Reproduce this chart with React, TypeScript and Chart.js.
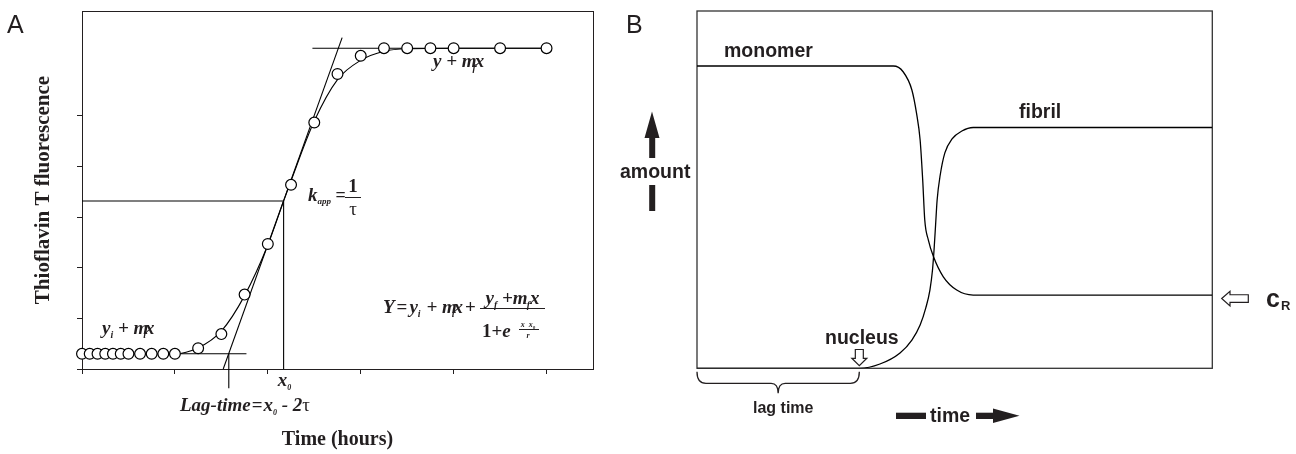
import React, { useEffect, useRef } from 'react';
import { Chart, registerables } from 'chart.js';

Chart.register(...registerables);

const SERIF = "'Liberation Serif', 'Times New Roman', serif";
const SANS = "'Liberation Sans', Arial, sans-serif";
const INK = '#231f20';

// ---------------- Panel A data ----------------
const timeHours = [0, 0.083, 0.167, 0.25, 0.333, 0.417, 0.5, 0.625, 0.75, 0.875, 1.0, 1.25, 1.5, 1.75, 2.0, 2.25, 2.5, 2.75, 3.0, 3.25, 3.5, 3.75, 4.0, 4.5, 5.0];
const thtFluorescence = [0.3, 0.3, 0.3, 0.3, 0.3, 0.3, 0.3, 0.3, 0.3, 0.3, 0.3, 0.41, 0.69, 1.47, 2.47, 3.64, 4.87, 5.83, 6.19, 6.34, 6.34, 6.34, 6.34, 6.34, 6.34];
const fitTime = [0, 1.0, 1.25, 1.5, 1.75, 2.0, 2.17, 2.25, 2.5, 2.75, 3.0, 3.25, 3.5, 4.0, 5.0];
const fitValue = [0.3, 0.3, 0.42, 0.75, 1.45, 2.45, 3.32, 3.72, 4.9, 5.72, 6.1, 6.28, 6.33, 6.34, 6.34];
const x0Time = 2.17;
const halfSignal = 3.32;
const tangentTime = [1.52, 2.8];
const tangentValue = [0, 6.55];
const baselineTime = [0, 1.77];
const baselineValue = [0.3, 0.3];
const plateauTime = [2.48, 5.0];
const plateauValue = [6.34, 6.34];
const lagTime = 1.58;
const lagMarkValue = [0.3, -0.38];
const xTicksA = [0, 1, 2, 3, 4, 5];
const yTicksA = [0, 1, 2, 3, 4, 5];

// ---------------- Panel B data ----------------
const monomerTime = [0, 38.1, 40.0, 41.7, 42.6, 43.3, 43.8, 44.2, 44.9, 45.9, 47.8, 50.4, 53.6, 100];
const monomerAmount = [84.6, 84.6, 83.0, 77.9, 71.4, 63.9, 52.7, 41.5, 35.9, 31.2, 25.6, 21.9, 20.5, 20.5];
const fibrilTime = [0, 31.5, 35.5, 39.4, 41.7, 43.3, 44.4, 45.2, 45.7, 46.0, 46.3, 46.6, 47.2, 48.1, 49.5, 51.4, 53.6, 100];
const fibrilAmount = [0, 0, 1.2, 4.3, 7.9, 12.1, 16.9, 21.9, 27.5, 33.1, 40.1, 47.1, 54.1, 60.3, 64.2, 66.4, 67.4, 67.4];
const lagEndB = 31.5;
const cRLevel = 20.5;

const pts = (xs: number[], ys: number[]) => xs.map((x, i) => ({ x, y: ys[i] }));

type Seg = { t: string; f: string; dx?: number; dy?: number };
function rich(ctx: CanvasRenderingContext2D, x: number, y: number, segs: Seg[], align: 'left' | 'center' = 'left') {
  ctx.textAlign = 'left';
  let w = 0;
  for (const s of segs) {
    ctx.font = s.f;
    w += ctx.measureText(s.t).width + (s.dx || 0);
  }
  let cx = align === 'center' ? x - w / 2 : x;
  for (const s of segs) {
    ctx.font = s.f;
    cx += s.dx || 0;
    ctx.fillText(s.t, cx, y + (s.dy || 0));
    cx += ctx.measureText(s.t).width;
  }
}

const BI = (n: number) => `italic bold ${n}px ${SERIF}`;
const BS = (n: number) => `bold ${n}px ${SERIF}`;
const RS = (n: number) => `${n}px ${SERIF}`;
const SB = (n: number) => `bold ${n}px ${SANS}`;

const annotA = {
  id: 'annotA',
  beforeDatasetsDraw(chart: any) {
    const { ctx, chartArea: a } = chart;
    ctx.save();
    ctx.strokeStyle = INK;
    ctx.lineWidth = 1;
    ctx.strokeRect(Math.round(a.left) + 0.5, Math.round(a.top) + 0.5, Math.round(a.right - a.left), Math.round(a.bottom - a.top));
    ctx.restore();
  },
  afterDraw(chart: any) {
    const ctx: CanvasRenderingContext2D = chart.ctx;
    const xs = chart.scales.x;
    ctx.save();
    ctx.fillStyle = INK;
    ctx.strokeStyle = INK;
    ctx.textBaseline = 'alphabetic';
    ctx.font = `25px ${SANS}`;
    ctx.textAlign = 'left';
    ctx.fillText('A', 7, 33);

    // y + m_f x
    rich(ctx, 433, 67, [
      { t: 'y + m', f: BI(19) },
      { t: 'f', f: BI(10), dx: -4, dy: 4 },
      { t: 'x', f: BI(19), dx: -1 },
    ]);
    // y_i + m_i x
    rich(ctx, 102, 334, [
      { t: 'y', f: BI(19) },
      { t: 'i', f: BI(10), dy: 4 },
      { t: ' + m', f: BI(19) },
      { t: 'i', f: BI(10), dx: -5, dy: 4 },
      { t: 'x', f: BI(19), dx: -1 },
    ]);
    // k_app = 1/tau
    rich(ctx, 308, 201, [
      { t: 'k', f: BI(19) },
      { t: 'app', f: BI(9), dy: 3 },
      { t: ' = ', f: BS(18) },
    ]);
    ctx.textAlign = 'center';
    ctx.font = BS(19);
    ctx.fillText('1', 353, 192);
    ctx.font = RS(19);
    ctx.fillText('τ', 353, 215);
    ctx.lineWidth = 1;
    ctx.beginPath();
    ctx.moveTo(345, 197.5);
    ctx.lineTo(361, 197.5);
    ctx.stroke();

    // x0 label
    rich(ctx, xs.getPixelForValue(x0Time) + 1, 386, [
      { t: 'x', f: BI(19) },
      { t: '0', f: BI(8), dy: 4 },
    ], 'center');
    // Lag-time
    rich(ctx, 245, 411, [
      { t: 'Lag-time', f: BI(19) },
      { t: '=', f: BS(19), dx: 1 },
      { t: 'x', f: BI(19), dx: 1 },
      { t: '0', f: BI(8), dy: 4 },
      { t: ' - 2', f: BI(19) },
      { t: 'τ', f: RS(19) },
    ], 'center');

    // Equation
    rich(ctx, 383, 313, [
      { t: 'Y', f: BI(19) },
      { t: '=', f: BS(19), dx: 2 },
      { t: 'y', f: BI(19), dx: 2 },
      { t: 'i', f: BI(10), dy: 4 },
      { t: ' + m', f: BI(19), dx: 1 },
      { t: 'i', f: BI(10), dx: -5, dy: 4 },
      { t: 'x', f: BI(19), dx: -1 },
      { t: '+', f: BS(19), dx: 2 },
    ]);
    rich(ctx, 512.5, 304, [
      { t: 'y', f: BI(19) },
      { t: 'f', f: BI(10), dy: 4 },
      { t: ' +m', f: BI(19) },
      { t: 'f', f: BI(10), dx: -1, dy: 4 },
      { t: 'x', f: BI(19) },
    ], 'center');
    ctx.beginPath();
    ctx.moveTo(480, 308.5);
    ctx.lineTo(545, 308.5);
    ctx.stroke();
    rich(ctx, 482, 337, [
      { t: '1+', f: BS(19) },
      { t: 'e', f: BI(19) },
    ]);
    rich(ctx, 528, 327, [
      { t: 'x  x', f: BI(8) },
      { t: '0', f: BI(5), dy: 2 },
    ], 'center');
    ctx.beginPath();
    ctx.moveTo(519, 329.5);
    ctx.lineTo(539, 329.5);
    ctx.stroke();
    ctx.font = BI(8);
    ctx.textAlign = 'center';
    ctx.fillText('r', 528, 338);
    ctx.restore();
  },
};

const annotB = {
  id: 'annotB',
  beforeDatasetsDraw(chart: any) {
    const { ctx, chartArea: a } = chart;
    ctx.save();
    ctx.strokeStyle = '#333';
    ctx.lineWidth = 1.3;
    ctx.strokeRect(a.left, a.top, a.right - a.left, a.bottom - a.top);
    ctx.restore();
  },
  afterDraw(chart: any) {
    const ctx: CanvasRenderingContext2D = chart.ctx;
    const xs = chart.scales.x;
    const ys = chart.scales.y;
    ctx.save();
    ctx.translate(-620, 0);
    const px = (v: number) => xs.getPixelForValue(v) + 620;
    ctx.fillStyle = INK;
    ctx.strokeStyle = INK;
    ctx.textBaseline = 'alphabetic';
    ctx.textAlign = 'left';
    ctx.font = `25px ${SANS}`;
    ctx.fillText('B', 626, 33);

    ctx.font = SB(19.5);
    ctx.fillText('monomer', 724, 57);
    ctx.fillText('fibril', 1019, 118);
    ctx.fillText('amount', 620, 178);
    ctx.fillText('nucleus', 825, 344);
    ctx.fillText('time', 930, 421.5);
    ctx.font = SB(16);
    ctx.fillText('lag time', 753, 413);
    ctx.font = SB(25);
    ctx.fillText('c', 1266, 307);
    ctx.font = SB(13);
    ctx.fillText('R', 1281, 310);

    // up arrow (amount)
    ctx.beginPath();
    ctx.moveTo(652, 111.5);
    ctx.lineTo(659.5, 138);
    ctx.lineTo(655.2, 138);
    ctx.lineTo(655.2, 158);
    ctx.lineTo(649.2, 158);
    ctx.lineTo(649.2, 138);
    ctx.lineTo(644.5, 138);
    ctx.closePath();
    ctx.fill();
    ctx.fillRect(649.2, 185, 6, 26);

    // nucleus hollow arrow
    const nx = px(lagEndB);
    ctx.lineWidth = 1.2;
    ctx.fillStyle = '#fff';
    ctx.beginPath();
    ctx.moveTo(nx - 4, 349.5);
    ctx.lineTo(nx + 4, 349.5);
    ctx.lineTo(nx + 4, 358.3);
    ctx.lineTo(nx + 7.5, 358.3);
    ctx.lineTo(nx, 365.7);
    ctx.lineTo(nx - 7.5, 358.3);
    ctx.lineTo(nx - 4, 358.3);
    ctx.closePath();
    ctx.fill();
    ctx.stroke();

    // c_R hollow arrow
    const cy = ys.getPixelForValue(cRLevel) + 3.5;
    ctx.beginPath();
    ctx.moveTo(1221.7, cy);
    ctx.lineTo(1230, cy - 7.3);
    ctx.lineTo(1230, cy - 3.8);
    ctx.lineTo(1248.3, cy - 3.8);
    ctx.lineTo(1248.3, cy + 3.8);
    ctx.lineTo(1230, cy + 3.8);
    ctx.lineTo(1230, cy + 7.3);
    ctx.closePath();
    ctx.fill();
    ctx.stroke();

    // brace (lag time)
    const bl = px(0);
    const br = px(lagEndB);
    const bm = (bl + br) / 2;
    ctx.lineWidth = 1.3;
    ctx.beginPath();
    ctx.moveTo(bl, 371.7);
    ctx.quadraticCurveTo(bl, 383.3, bl + 9, 383.3);
    ctx.lineTo(bm - 7, 383.3);
    ctx.quadraticCurveTo(bm, 383.3, bm, 393.3);
    ctx.quadraticCurveTo(bm, 383.3, bm + 7, 383.3);
    ctx.lineTo(br - 9, 383.3);
    ctx.quadraticCurveTo(br, 383.3, br, 371.7);
    ctx.stroke();

    // time arrow
    ctx.fillStyle = INK;
    ctx.fillRect(896, 412.7, 30, 6.3);
    ctx.fillRect(976, 412.7, 20, 6.3);
    ctx.beginPath();
    ctx.moveTo(993, 408.5);
    ctx.lineTo(1019.5, 415.8);
    ctx.lineTo(993, 423);
    ctx.closePath();
    ctx.fill();
    ctx.restore();
  },
};

function PanelA() {
  const ref = useRef<HTMLCanvasElement>(null);
  useEffect(() => {
    if (!ref.current) return;
    const line = (data: any[], extra: any = {}) => ({
      data,
      showLine: true,
      borderColor: '#000',
      borderWidth: 1.1,
      pointRadius: 0,
      fill: false,
      order: 2,
      ...extra,
    });
    const chart = new Chart(ref.current, {
      type: 'scatter',
      data: {
        datasets: [
          {
            data: pts(timeHours, thtFluorescence),
            showLine: false,
            pointRadius: 5.4,
            pointBackgroundColor: '#fff',
            pointBorderColor: '#000',
            pointBorderWidth: 1.2,
            clip: false,
            order: 0,
          } as any,
          line(pts(fitTime, fitValue), { cubicInterpolationMode: 'monotone', order: 1 }),
          line(pts(tangentTime, tangentValue)),
          line(pts([0, x0Time], [halfSignal, halfSignal])),
          line(pts([x0Time, x0Time], [halfSignal, 0])),
          line(pts(baselineTime, baselineValue)),
          line(pts(plateauTime, plateauValue)),
          line(pts([lagTime, lagTime], lagMarkValue), { clip: false }),
        ],
      },
      options: {
        animation: false,
        responsive: false,
        events: [],
        layout: { padding: { left: 0, top: 11, right: 27, bottom: 0 } },
        plugins: { legend: { display: false }, tooltip: { enabled: false } },
        scales: {
          x: {
            type: 'linear',
            min: 0,
            max: 5.5,
            afterBuildTicks: (s: any) => {
              s.ticks = xTicksA.map((v) => ({ value: v }));
            },
            afterFit: (s: any) => {
              s.height = 85;
            },
            grid: { drawOnChartArea: false, drawTicks: true, tickLength: 5, color: INK, lineWidth: 1 },
            border: { color: INK, width: 1 },
            ticks: { display: false },
            title: {
              display: true,
              text: 'Time (hours)',
              color: INK,
              font: { family: SERIF, size: 20, weight: 'bold' },
              padding: { top: 0, bottom: 2 },
            },
          },
          y: {
            type: 'linear',
            min: 0,
            max: 7.075,
            afterBuildTicks: (s: any) => {
              s.ticks = yTicksA.map((v) => ({ value: v }));
            },
            afterFit: (s: any) => {
              s.width = 82;
            },
            grid: { drawOnChartArea: false, drawTicks: true, tickLength: 5, color: INK, lineWidth: 1 },
            border: { color: INK, width: 1 },
            ticks: { display: false },
            title: {
              display: true,
              text: 'Thioflavin T fluorescence',
              color: INK,
              font: { family: SERIF, size: 21, weight: 'bold' },
              padding: { top: 31, bottom: 0 },
            },
          },
        },
      } as any,
      plugins: [annotA],
    });
    return () => chart.destroy();
  }, []);
  return <canvas ref={ref} width={620} height={454} style={{ position: 'absolute', left: 0, top: 0 }} />;
}

function PanelB() {
  const ref = useRef<HTMLCanvasElement>(null);
  useEffect(() => {
    if (!ref.current) return;
    const chart = new Chart(ref.current, {
      type: 'scatter',
      data: {
        datasets: [
          {
            label: 'monomer',
            data: pts(monomerTime, monomerAmount),
            showLine: true,
            borderColor: '#000',
            borderWidth: 1.3,
            pointRadius: 0,
            cubicInterpolationMode: 'monotone',
          } as any,
          {
            label: 'fibril',
            data: pts(fibrilTime, fibrilAmount),
            showLine: true,
            borderColor: '#000',
            borderWidth: 1.3,
            pointRadius: 0,
            cubicInterpolationMode: 'monotone',
          } as any,
        ],
      },
      options: {
        animation: false,
        responsive: false,
        events: [],
        layout: { padding: { left: 77, top: 11, right: 83.7, bottom: 85.7 } },
        plugins: { legend: { display: false }, tooltip: { enabled: false } },
        scales: {
          x: { type: 'linear', min: 0, max: 100, display: false },
          y: { type: 'linear', min: 0, max: 100, display: false },
        },
      } as any,
      plugins: [annotB],
    });
    return () => chart.destroy();
  }, []);
  return <canvas ref={ref} width={676} height={454} style={{ position: 'absolute', left: 620, top: 0 }} />;
}

export default function App() {
  return (
    <div style={{ position: 'absolute', left: 0, top: 0, width: 1296, height: 454, background: '#fff', overflow: 'hidden' }}>
      <PanelA />
      <PanelB />
    </div>
  );
}
